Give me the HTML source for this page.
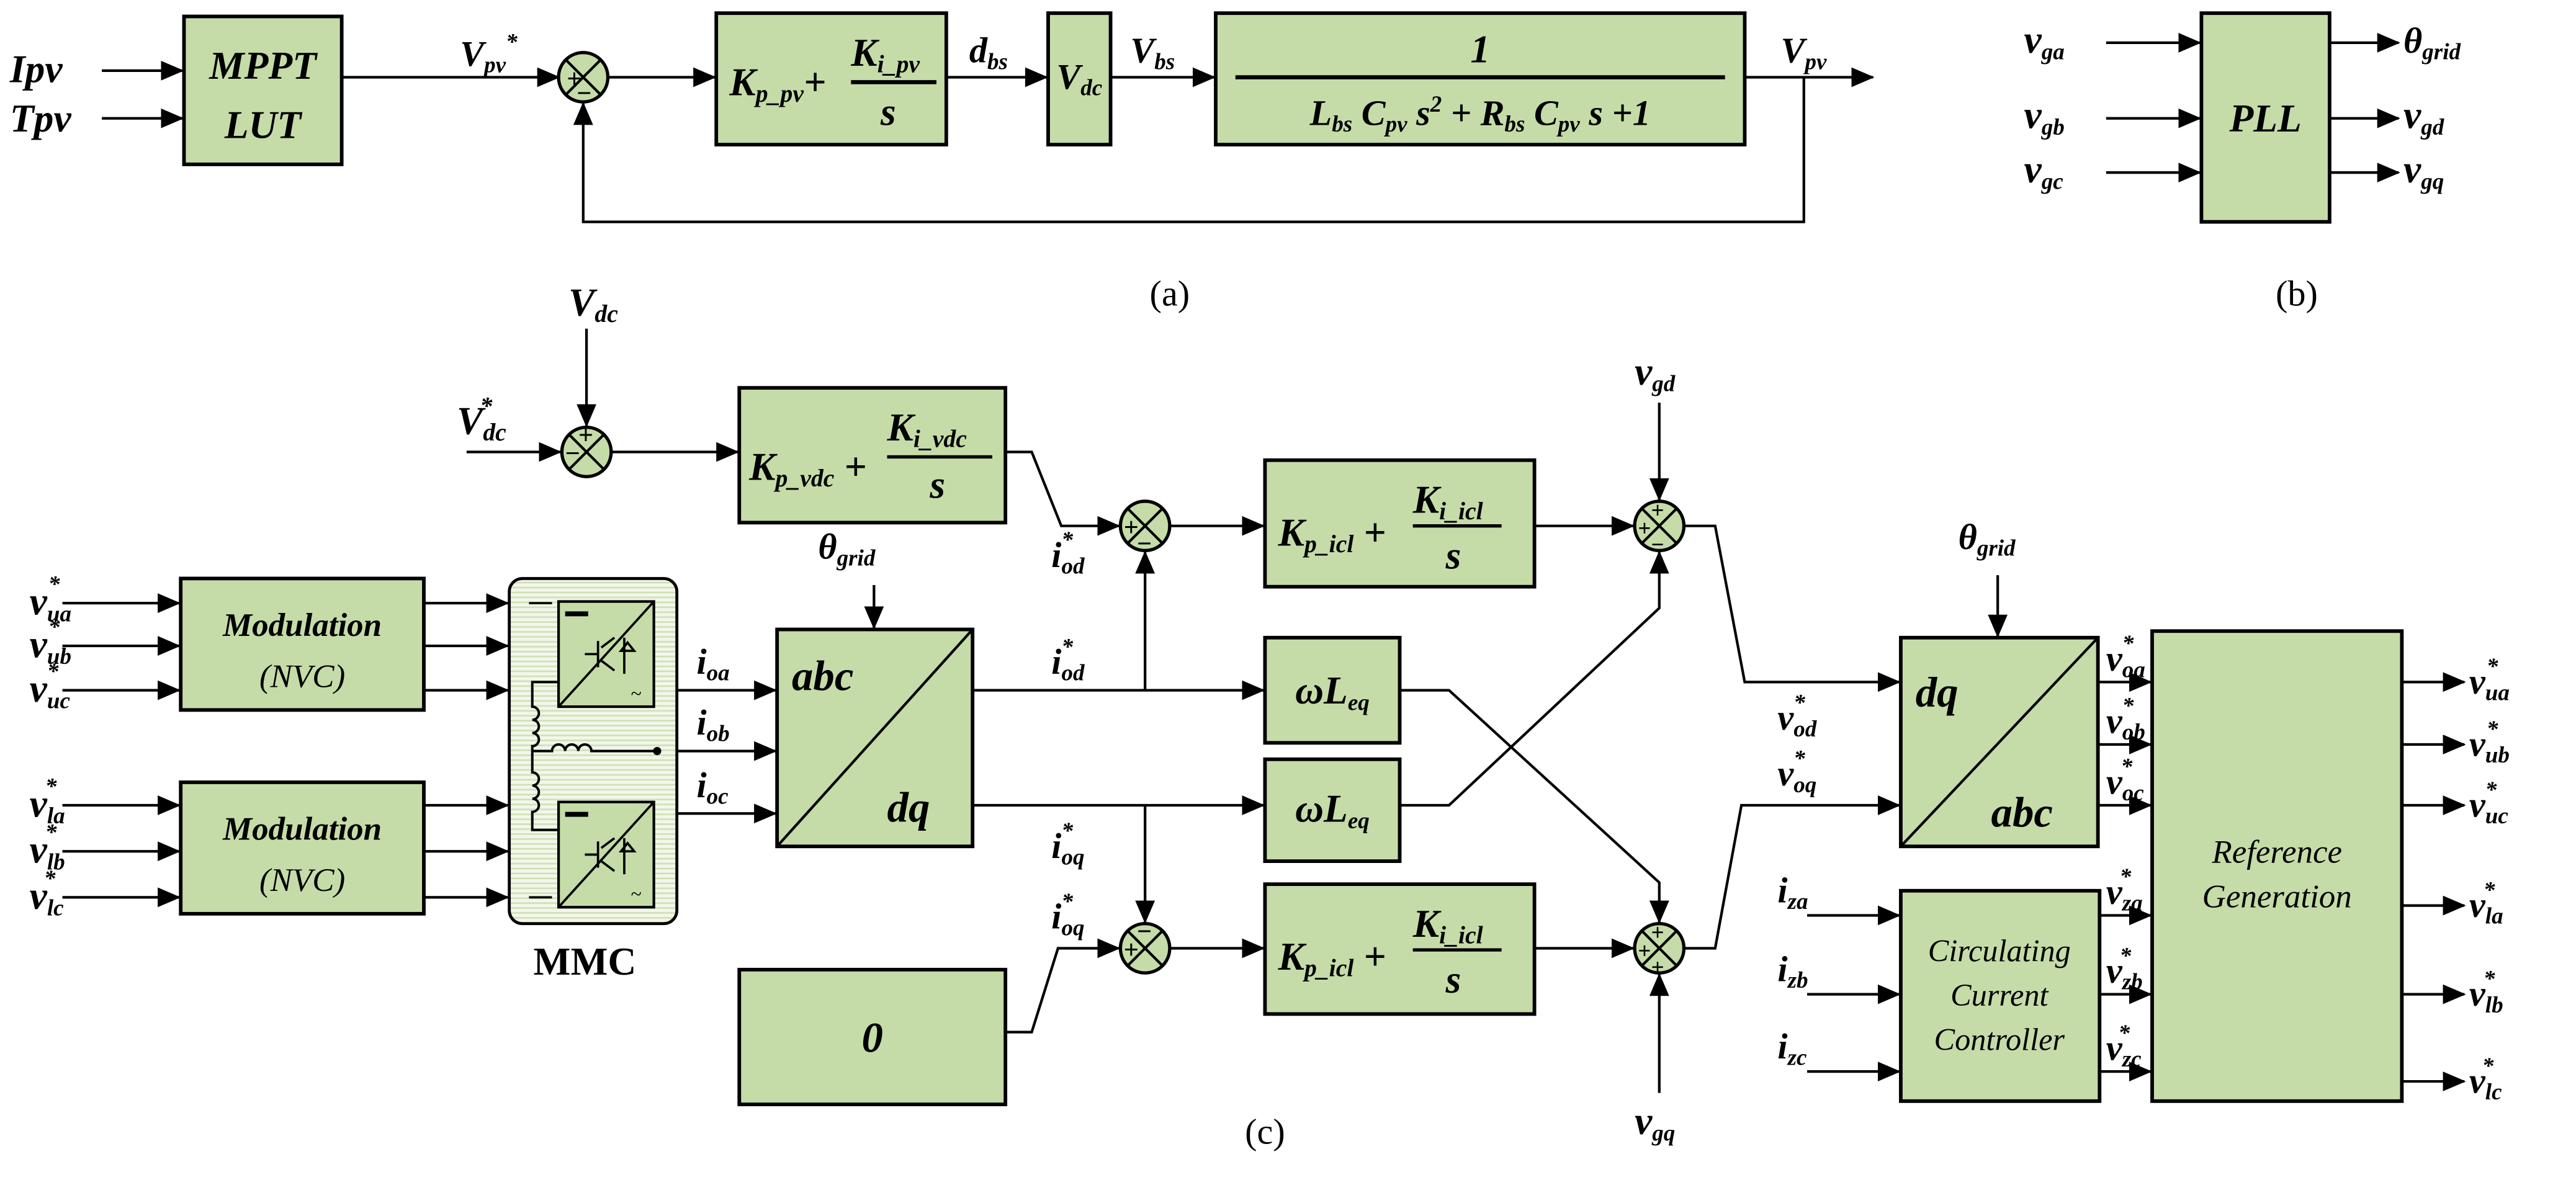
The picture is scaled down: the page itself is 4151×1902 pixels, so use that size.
<!DOCTYPE html>
<html><head><meta charset="utf-8"><style>
html,body{margin:0;padding:0;background:#fff;}
svg{display:block;}
text{font-family:"Liberation Serif",serif;font-style:italic;font-weight:bold;fill:#000;}
.n{font-style:normal;font-weight:normal;}
.b{fill:#c6dca8;stroke:#000;stroke-width:2.2;}
.l{fill:none;stroke:#000;stroke-width:1.6;}
.c{fill:#c6dca8;stroke:#000;stroke-width:2;}
</style></head><body>
<svg width="4151" height="1902" viewBox="0 0 1568 718" preserveAspectRatio="none" xmlns="http://www.w3.org/2000/svg">
<defs>
<marker id="a" markerUnits="userSpaceOnUse" markerWidth="14" markerHeight="12" refX="13" refY="6" orient="auto"><path d="M0,0 L14,6 L0,12 z" fill="#000"/></marker>
<pattern id="h" width="4" height="3" patternUnits="userSpaceOnUse"><rect width="4" height="3" fill="#f2f7ea"/><rect width="4" height="1" fill="#cfe0b6"/></pattern>
<g id="sx"><line x1="-10.6" y1="-10.6" x2="10.6" y2="10.6" stroke="#000" stroke-width="1.6"/><line x1="-10.6" y1="10.6" x2="10.6" y2="-10.6" stroke="#000" stroke-width="1.6"/></g>
</defs>

<!-- (a) -->
<text x="6" y="50" font-size="24">Ipv</text>
<line class="l" x1="62" y1="43" x2="111" y2="43" marker-end="url(#a)"/>
<text x="6" y="80" font-size="24">Tpv</text>
<line class="l" x1="62" y1="72" x2="111" y2="72" marker-end="url(#a)"/>
<rect class="b" x="112" y="10" width="96" height="90"/>
<text x="160" y="48" font-size="24" text-anchor="middle">MPPT</text>
<text x="160" y="84" font-size="24" text-anchor="middle">LUT</text>
<line class="l" x1="208" y1="47" x2="340" y2="47" marker-end="url(#a)"/>
<text x="280" y="40" font-size="22">V<tspan font-size="14" dy="4">pv</tspan><tspan font-size="14" dy="-14">*</tspan></text>
<circle class="c" cx="355" cy="47" r="15"/><use href="#sx" x="355" y="47"/>
<text x="345" y="53" font-size="16" class="n" style="font-weight:bold">+</text>
<text x="351" y="62" font-size="16" class="n" style="font-weight:bold">−</text>
<line class="l" x1="370" y1="47" x2="435" y2="47" marker-end="url(#a)"/>
<rect class="b" x="436" y="8" width="140" height="80"/>
<text x="444" y="58" font-size="24">K<tspan font-size="15" dy="4">p_pv</tspan><tspan dy="-4" font-size="24">+</tspan></text>
<text x="518" y="40" font-size="24">K<tspan font-size="15" dy="4">i_pv</tspan></text>
<line x1="518" y1="50" x2="570" y2="50" stroke="#000" stroke-width="2.5"/>
<text x="536" y="76" font-size="24">s</text>
<line class="l" x1="576" y1="47" x2="637" y2="47" marker-end="url(#a)"/>
<text x="590" y="38" font-size="22">d<tspan font-size="14" dy="4">bs</tspan></text>
<rect class="b" x="638" y="8" width="38" height="80"/>
<text x="657" y="54" font-size="22" text-anchor="middle">V<tspan font-size="14" dy="4">dc</tspan></text>
<line class="l" x1="676" y1="47" x2="739" y2="47" marker-end="url(#a)"/>
<text x="688" y="38" font-size="22">V<tspan font-size="14" dy="4">bs</tspan></text>
<rect class="b" x="740" y="8" width="322" height="80"/>
<text x="901" y="38" font-size="24" text-anchor="middle">1</text>
<line x1="752" y1="47" x2="1050" y2="47" stroke="#000" stroke-width="2.5"/>
<text x="901" y="76" font-size="22" text-anchor="middle">L<tspan font-size="14" dy="4">bs</tspan><tspan dy="-4"> C</tspan><tspan font-size="14" dy="4">pv</tspan><tspan dy="-4"> s</tspan><tspan font-size="14" dy="-8">2</tspan><tspan dy="8"> + R</tspan><tspan font-size="14" dy="4">bs</tspan><tspan dy="-4"> C</tspan><tspan font-size="14" dy="4">pv</tspan><tspan dy="-4"> s +1</tspan></text>
<line class="l" x1="1062" y1="47" x2="1140" y2="47" marker-end="url(#a)"/>
<text x="1084" y="38" font-size="22">V<tspan font-size="14" dy="4">pv</tspan></text>
<polyline class="l" points="1098,47 1098,135 355,135 355,63" marker-end="url(#a)"/>
<text x="712" y="186" font-size="22" class="n" text-anchor="middle">(a)</text>

<!-- (b) -->
<rect class="b" x="1340" y="8" width="78" height="127"/>
<text x="1379" y="80" font-size="24" text-anchor="middle">PLL</text>
<text x="1232" y="32" font-size="24">v<tspan font-size="14" dy="4">ga</tspan></text>
<text x="1232" y="78" font-size="24">v<tspan font-size="14" dy="4">gb</tspan></text>
<text x="1232" y="111" font-size="24">v<tspan font-size="14" dy="4">gc</tspan></text>
<line class="l" x1="1282" y1="26" x2="1339" y2="26" marker-end="url(#a)"/>
<line class="l" x1="1282" y1="72" x2="1339" y2="72" marker-end="url(#a)"/>
<line class="l" x1="1282" y1="105" x2="1339" y2="105" marker-end="url(#a)"/>
<line class="l" x1="1418" y1="26" x2="1460" y2="26" marker-end="url(#a)"/>
<line class="l" x1="1418" y1="72" x2="1460" y2="72" marker-end="url(#a)"/>
<line class="l" x1="1418" y1="105" x2="1460" y2="105" marker-end="url(#a)"/>
<text x="1463" y="32" font-size="22">θ<tspan font-size="14" dy="4">grid</tspan></text>
<text x="1463" y="78" font-size="24">v<tspan font-size="14" dy="4">gd</tspan></text>
<text x="1463" y="111" font-size="24">v<tspan font-size="14" dy="4">gq</tspan></text>
<text x="1398" y="186" font-size="22" class="n" text-anchor="middle">(b)</text>

<!-- (c) top Vdc loop -->
<text x="346" y="192" font-size="24">V<tspan font-size="15" dy="4">dc</tspan></text>
<line class="l" x1="357" y1="200" x2="357" y2="259" marker-end="url(#a)"/>
<text x="278" y="264" font-size="24">V<tspan font-size="15" dy="4">dc</tspan><tspan font-size="15" dx="-16" dy="-16">*</tspan></text>
<line class="l" x1="284" y1="275" x2="341" y2="275" marker-end="url(#a)"/>
<circle class="c" cx="357" cy="275" r="15"/><use href="#sx" x="357" y="275"/>
<text x="352" y="270" font-size="16" class="n" style="font-weight:bold">+</text>
<text x="344" y="281" font-size="16" class="n" style="font-weight:bold">−</text>
<line class="l" x1="372" y1="275" x2="449" y2="275" marker-end="url(#a)"/>
<rect class="b" x="450" y="236" width="162" height="82"/>
<text x="456" y="292" font-size="24">K<tspan font-size="15" dy="4">p_vdc</tspan><tspan dy="-4" font-size="24"> +</tspan></text>
<text x="540" y="268" font-size="24">K<tspan font-size="15" dy="4">i_vdc</tspan></text>
<line x1="540" y1="278" x2="604" y2="278" stroke="#000" stroke-width="2"/>
<text x="566" y="303" font-size="24">s</text>
<polyline class="l" points="612,275 628,275 646,320 681,320" marker-end="url(#a)"/>
<circle class="c" cx="697" cy="320" r="15"/><use href="#sx" x="697" y="320"/>
<text x="684" y="326" font-size="16" class="n" style="font-weight:bold">+</text>
<text x="692" y="336" font-size="16" class="n" style="font-weight:bold">−</text>
<text x="640" y="345" font-size="22">i<tspan font-size="14" dy="4">od</tspan><tspan font-size="14" dx="-14" dy="-16">*</tspan></text>
<line class="l" x1="712" y1="320" x2="769" y2="320" marker-end="url(#a)"/>
<rect class="b" x="770" y="280" width="164" height="77"/>
<text x="778" y="332" font-size="24">K<tspan font-size="15" dy="4">p_icl</tspan><tspan dy="-4" font-size="24"> +</tspan></text>
<text x="860" y="312" font-size="24">K<tspan font-size="15" dy="4">i_icl</tspan></text>
<line x1="860" y1="320" x2="914" y2="320" stroke="#000" stroke-width="2"/>
<text x="880" y="346" font-size="24">s</text>
<line class="l" x1="934" y1="320" x2="994" y2="320" marker-end="url(#a)"/>
<circle class="c" cx="1010" cy="320" r="15"/><use href="#sx" x="1010" y="320"/>
<text x="1005" y="315" font-size="14" class="n" style="font-weight:bold">+</text>
<text x="997" y="326" font-size="14" class="n" style="font-weight:bold">+</text>
<text x="1005" y="336" font-size="14" class="n" style="font-weight:bold">−</text>
<text x="995" y="234" font-size="24">v<tspan font-size="14" dy="4">gd</tspan></text>
<line class="l" x1="1010" y1="245" x2="1010" y2="304" marker-end="url(#a)"/>
<polyline class="l" points="1025,320 1044,320 1062,415 1156,415" marker-end="url(#a)"/>
<text x="1082" y="444" font-size="22">v<tspan font-size="14" dy="4">od</tspan><tspan font-size="14" dx="-14" dy="-16">*</tspan></text>

<!-- abc/dq -->
<text x="498" y="340" font-size="22">θ<tspan font-size="14" dy="4">grid</tspan></text>
<line class="l" x1="532" y1="356" x2="532" y2="382" marker-end="url(#a)"/>
<rect class="b" x="473" y="383" width="119" height="132"/>
<line x1="473" y1="515" x2="592" y2="383" stroke="#000" stroke-width="1.6"/>
<text x="482" y="420" font-size="26">abc</text>
<text x="540" y="500" font-size="26">dq</text>
<line class="l" x1="412" y1="420" x2="472" y2="420" marker-end="url(#a)"/>
<line class="l" x1="412" y1="457" x2="472" y2="457" marker-end="url(#a)"/>
<line class="l" x1="412" y1="495" x2="472" y2="495" marker-end="url(#a)"/>
<text x="424" y="410" font-size="22">i<tspan font-size="14" dy="4">oa</tspan></text>
<text x="424" y="447" font-size="22">i<tspan font-size="14" dy="4">ob</tspan></text>
<text x="424" y="485" font-size="22">i<tspan font-size="14" dy="4">oc</tspan></text>
<line class="l" x1="592" y1="420" x2="769" y2="420" marker-end="url(#a)"/>
<line class="l" x1="592" y1="490" x2="769" y2="490" marker-end="url(#a)"/>
<text x="640" y="410" font-size="22">i<tspan font-size="14" dy="4">od</tspan><tspan font-size="14" dx="-14" dy="-16">*</tspan></text>
<text x="640" y="522" font-size="22">i<tspan font-size="14" dy="4">oq</tspan><tspan font-size="14" dx="-14" dy="-16">*</tspan></text>
<line class="l" x1="697" y1="420" x2="697" y2="336" marker-end="url(#a)"/>
<line class="l" x1="697" y1="490" x2="697" y2="561" marker-end="url(#a)"/>
<rect class="b" x="770" y="388" width="82" height="64"/>
<text x="811" y="428" font-size="24" text-anchor="middle">ωL<tspan font-size="14" dy="4">eq</tspan></text>
<rect class="b" x="770" y="462" width="82" height="62"/>
<text x="811" y="500" font-size="24" text-anchor="middle">ωL<tspan font-size="14" dy="4">eq</tspan></text>
<polyline class="l" points="852,420 882,420 1010,537 1010,561" marker-end="url(#a)"/>
<polyline class="l" points="852,490 882,490 1010,370 1010,336" marker-end="url(#a)"/>

<!-- lower q loop -->
<rect class="b" x="450" y="590" width="162" height="82"/>
<text x="531" y="640" font-size="26" text-anchor="middle">0</text>
<polyline class="l" points="612,628 628,628 644,577 681,577" marker-end="url(#a)"/>
<text x="640" y="565" font-size="22">i<tspan font-size="14" dy="4">oq</tspan><tspan font-size="14" dx="-14" dy="-16">*</tspan></text>
<circle class="c" cx="697" cy="577" r="15"/><use href="#sx" x="697" y="577"/>
<text x="692" y="572" font-size="16" class="n" style="font-weight:bold">−</text>
<text x="684" y="583" font-size="16" class="n" style="font-weight:bold">+</text>
<line class="l" x1="712" y1="577" x2="769" y2="577" marker-end="url(#a)"/>
<rect class="b" x="770" y="538" width="164" height="79"/>
<text x="778" y="590" font-size="24">K<tspan font-size="15" dy="4">p_icl</tspan><tspan dy="-4" font-size="24"> +</tspan></text>
<text x="860" y="570" font-size="24">K<tspan font-size="15" dy="4">i_icl</tspan></text>
<line x1="860" y1="578" x2="914" y2="578" stroke="#000" stroke-width="2"/>
<text x="880" y="604" font-size="24">s</text>
<line class="l" x1="934" y1="577" x2="994" y2="577" marker-end="url(#a)"/>
<circle class="c" cx="1010" cy="577" r="15"/><use href="#sx" x="1010" y="577"/>
<text x="1005" y="572" font-size="14" class="n" style="font-weight:bold">+</text>
<text x="997" y="583" font-size="14" class="n" style="font-weight:bold">+</text>
<text x="1005" y="593" font-size="14" class="n" style="font-weight:bold">+</text>
<text x="995" y="690" font-size="24">v<tspan font-size="14" dy="4">gq</tspan></text>
<line class="l" x1="1010" y1="665" x2="1010" y2="593" marker-end="url(#a)"/>
<polyline class="l" points="1025,577 1044,577 1060,490 1156,490" marker-end="url(#a)"/>
<text x="1082" y="478" font-size="22">v<tspan font-size="14" dy="4">oq</tspan><tspan font-size="14" dx="-14" dy="-16">*</tspan></text>

<!-- dq/abc -->
<text x="1192" y="334" font-size="22">θ<tspan font-size="14" dy="4">grid</tspan></text>
<line class="l" x1="1216" y1="350" x2="1216" y2="387" marker-end="url(#a)"/>
<rect class="b" x="1157" y="388" width="120" height="127"/>
<line x1="1157" y1="515" x2="1277" y2="388" stroke="#000" stroke-width="1.6"/>
<text x="1166" y="430" font-size="26">dq</text>
<text x="1212" y="503" font-size="26">abc</text>
<line class="l" x1="1277" y1="415" x2="1309" y2="415" marker-end="url(#a)"/>
<line class="l" x1="1277" y1="453" x2="1309" y2="453" marker-end="url(#a)"/>
<line class="l" x1="1277" y1="490" x2="1309" y2="490" marker-end="url(#a)"/>
<text x="1282" y="408" font-size="22">v<tspan font-size="14" dy="4">oa</tspan><tspan font-size="14" dx="-14" dy="-16">*</tspan></text>
<text x="1282" y="446" font-size="22">v<tspan font-size="14" dy="4">ob</tspan><tspan font-size="14" dx="-14" dy="-16">*</tspan></text>
<text x="1282" y="483" font-size="22">v<tspan font-size="14" dy="4">oc</tspan><tspan font-size="14" dx="-14" dy="-16">*</tspan></text>

<!-- CCC -->
<rect class="b" x="1157" y="542" width="121" height="128"/>
<text x="1217" y="585" font-size="19" font-weight="normal" text-anchor="middle" style="font-weight:normal">Circulating</text>
<text x="1217" y="612" font-size="19" text-anchor="middle" style="font-weight:normal">Current</text>
<text x="1217" y="639" font-size="19" text-anchor="middle" style="font-weight:normal">Controller</text>
<line class="l" x1="1100" y1="557" x2="1156" y2="557" marker-end="url(#a)"/>
<line class="l" x1="1100" y1="605" x2="1156" y2="605" marker-end="url(#a)"/>
<line class="l" x1="1100" y1="652" x2="1156" y2="652" marker-end="url(#a)"/>
<text x="1082" y="549" font-size="22">i<tspan font-size="14" dy="4">za</tspan></text>
<text x="1082" y="597" font-size="22">i<tspan font-size="14" dy="4">zb</tspan></text>
<text x="1082" y="644" font-size="22">i<tspan font-size="14" dy="4">zc</tspan></text>
<line class="l" x1="1278" y1="557" x2="1309" y2="557" marker-end="url(#a)"/>
<line class="l" x1="1278" y1="605" x2="1309" y2="605" marker-end="url(#a)"/>
<line class="l" x1="1278" y1="652" x2="1309" y2="652" marker-end="url(#a)"/>
<text x="1282" y="550" font-size="22">v<tspan font-size="14" dy="4">za</tspan><tspan font-size="14" dx="-14" dy="-16">*</tspan></text>
<text x="1282" y="598" font-size="22">v<tspan font-size="14" dy="4">zb</tspan><tspan font-size="14" dx="-14" dy="-16">*</tspan></text>
<text x="1282" y="645" font-size="22">v<tspan font-size="14" dy="4">zc</tspan><tspan font-size="14" dx="-14" dy="-16">*</tspan></text>

<!-- Reference generation -->
<rect class="b" x="1310" y="384" width="152" height="286"/>
<text x="1386" y="525" font-size="20" text-anchor="middle" style="font-weight:normal">Reference</text>
<text x="1386" y="552" font-size="20" text-anchor="middle" style="font-weight:normal">Generation</text>
<line class="l" x1="1462" y1="415" x2="1500" y2="415" marker-end="url(#a)"/>
<line class="l" x1="1462" y1="453" x2="1500" y2="453" marker-end="url(#a)"/>
<line class="l" x1="1462" y1="490" x2="1500" y2="490" marker-end="url(#a)"/>
<line class="l" x1="1462" y1="551" x2="1500" y2="551" marker-end="url(#a)"/>
<line class="l" x1="1462" y1="605" x2="1500" y2="605" marker-end="url(#a)"/>
<line class="l" x1="1462" y1="658" x2="1500" y2="658" marker-end="url(#a)"/>
<text x="1503" y="422" font-size="22">v<tspan font-size="14" dy="4">ua</tspan><tspan font-size="14" dx="-14" dy="-16">*</tspan></text>
<text x="1503" y="460" font-size="22">v<tspan font-size="14" dy="4">ub</tspan><tspan font-size="14" dx="-14" dy="-16">*</tspan></text>
<text x="1503" y="497" font-size="22">v<tspan font-size="14" dy="4">uc</tspan><tspan font-size="14" dx="-14" dy="-16">*</tspan></text>
<text x="1503" y="558" font-size="22">v<tspan font-size="14" dy="4">la</tspan><tspan font-size="14" dx="-12" dy="-16">*</tspan></text>
<text x="1503" y="612" font-size="22">v<tspan font-size="14" dy="4">lb</tspan><tspan font-size="14" dx="-12" dy="-16">*</tspan></text>
<text x="1503" y="665" font-size="22">v<tspan font-size="14" dy="4">lc</tspan><tspan font-size="14" dx="-12" dy="-16">*</tspan></text>

<!-- Modulation -->
<rect class="b" x="110" y="352" width="148" height="80"/>
<text x="184" y="387" font-size="20" text-anchor="middle">Modulation</text>
<text x="184" y="418" font-size="20" text-anchor="middle" style="font-weight:normal">(NVC)</text>
<rect class="b" x="110" y="476" width="148" height="80"/>
<text x="184" y="511" font-size="20" text-anchor="middle">Modulation</text>
<text x="184" y="542" font-size="20" text-anchor="middle" style="font-weight:normal">(NVC)</text>
<line class="l" x1="38" y1="367" x2="109" y2="367" marker-end="url(#a)"/>
<line class="l" x1="38" y1="393" x2="109" y2="393" marker-end="url(#a)"/>
<line class="l" x1="38" y1="420" x2="109" y2="420" marker-end="url(#a)"/>
<line class="l" x1="38" y1="490" x2="109" y2="490" marker-end="url(#a)"/>
<line class="l" x1="38" y1="518" x2="109" y2="518" marker-end="url(#a)"/>
<line class="l" x1="38" y1="546" x2="109" y2="546" marker-end="url(#a)"/>
<text x="18" y="374" font-size="24">v<tspan font-size="14" dy="4">ua</tspan><tspan font-size="14" dx="-14" dy="-18">*</tspan></text>
<text x="18" y="400" font-size="24">v<tspan font-size="14" dy="4">ub</tspan><tspan font-size="14" dx="-14" dy="-18">*</tspan></text>
<text x="18" y="427" font-size="24">v<tspan font-size="14" dy="4">uc</tspan><tspan font-size="14" dx="-14" dy="-18">*</tspan></text>
<text x="18" y="497" font-size="24">v<tspan font-size="14" dy="4">la</tspan><tspan font-size="14" dx="-12" dy="-18">*</tspan></text>
<text x="18" y="525" font-size="24">v<tspan font-size="14" dy="4">lb</tspan><tspan font-size="14" dx="-12" dy="-18">*</tspan></text>
<text x="18" y="553" font-size="24">v<tspan font-size="14" dy="4">lc</tspan><tspan font-size="14" dx="-12" dy="-18">*</tspan></text>
<line class="l" x1="258" y1="367" x2="309" y2="367" marker-end="url(#a)"/>
<line class="l" x1="258" y1="393" x2="309" y2="393" marker-end="url(#a)"/>
<line class="l" x1="258" y1="420" x2="309" y2="420" marker-end="url(#a)"/>
<line class="l" x1="258" y1="490" x2="309" y2="490" marker-end="url(#a)"/>
<line class="l" x1="258" y1="518" x2="309" y2="518" marker-end="url(#a)"/>
<line class="l" x1="258" y1="546" x2="309" y2="546" marker-end="url(#a)"/>

<!-- MMC -->
<rect x="310" y="352" width="102" height="210" rx="8" fill="url(#h)" stroke="#000" stroke-width="1.8"/>
<rect x="340" y="366" width="58" height="64" fill="#c6dca8" stroke="#000" stroke-width="1.6"/>
<line x1="340" y1="430" x2="398" y2="366" stroke="#000" stroke-width="1.4"/>
<rect x="344" y="372" width="14" height="3" fill="#000"/>
<text x="384" y="426" font-size="12" class="n">~</text>
<path d="M356,398 h8 M364,390 v16 M366,394 l8,-6 M366,402 l8,6 M380,388 v22 M378,396 l4,-5 l4,5 z" stroke="#000" stroke-width="1.4" fill="none"/>
<rect x="340" y="488" width="58" height="64" fill="#c6dca8" stroke="#000" stroke-width="1.6"/>
<line x1="340" y1="552" x2="398" y2="488" stroke="#000" stroke-width="1.4"/>
<rect x="344" y="494" width="14" height="3" fill="#000"/>
<text x="384" y="548" font-size="12" class="n">~</text>
<path d="M356,520 h8 M364,512 v16 M366,516 l8,-6 M366,524 l8,6 M380,510 v22 M378,518 l4,-5 l4,5 z" stroke="#000" stroke-width="1.4" fill="none"/>
<line x1="322" y1="367" x2="336" y2="367" stroke="#000" stroke-width="1.4"/>
<line x1="322" y1="546" x2="336" y2="546" stroke="#000" stroke-width="1.4"/>
<path d="M340,415 H324 V430 a4,4 0 0 1 0,8 a4,4 0 0 1 0,8 a4,4 0 0 1 0,8 V470 a4,4 0 0 1 0,8 a4,4 0 0 1 0,8 a4,4 0 0 1 0,8 V505 H340 M324,457 H336 a4,4 0 0 1 8,0 a4,4 0 0 1 8,0 a4,4 0 0 1 8,0 H398" stroke="#000" stroke-width="1.5" fill="none"/>
<circle cx="400" cy="457" r="2.5" fill="#000"/>
<text x="356" y="593" font-size="24" class="n" style="font-weight:bold" text-anchor="middle">MMC</text>

<text x="770" y="696" font-size="22" class="n" text-anchor="middle">(c)</text>
</svg>
</body></html>
